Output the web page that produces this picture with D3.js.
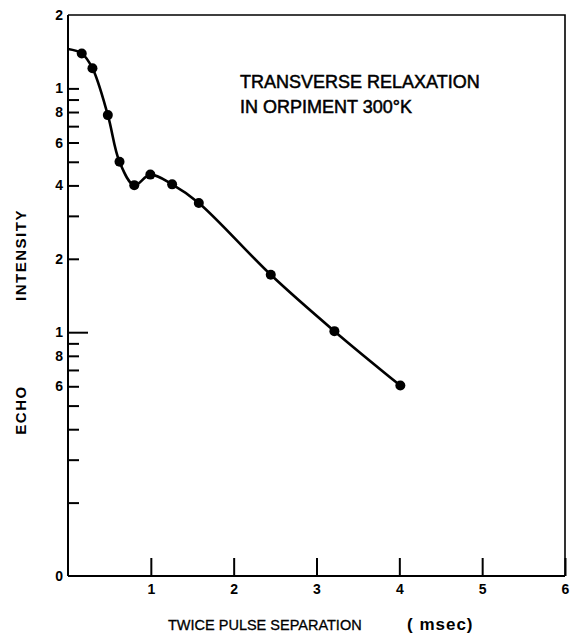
<!DOCTYPE html>
<html>
<head>
<meta charset="utf-8">
<script src="https://cdn.jsdelivr.net/npm/d3@7"></script>
<style>
  html, body { margin: 0; padding: 0; background: #fff; }
  svg { display: block; }
  text { font-family: "Liberation Sans", Arial, sans-serif; fill: #000; }
</style>
</head>
<body>
<svg id="chart" width="570" height="633"></svg>
<script>
// Echo intensity vs. twice the pulse separation (msec), log intensity axis
const pulseSep = [0.166, 0.295, 0.481, 0.622, 0.800, 0.994, 1.257, 1.579, 2.448, 3.216, 4.012];
const echo     = [13.9, 12.1, 7.77, 5.0, 4.01, 4.43, 4.04, 3.39, 1.72, 1.01, 0.604];
// the drawn curve starts on the intensity axis
const curveStart = [0, 14.5];

const xTicks = [1, 2, 3, 4, 5, 6];
const xTickLabels = ["1", "2", "3", "4", "5", "6"];
const yTicks = [10, 9, 8, 7, 6, 5, 4, 3, 2, 1, 0.9, 0.8, 0.7, 0.6, 0.5, 0.4, 0.3, 0.2];
const yLabelValues = [20, 10, 8, 6, 4, 2, 1, 0.8, 0.6, 0.1];
const yLabelTexts  = ["2", "1", "8", "6", "4", "2", "1", "8", "6", "0"];

const svg = d3.select("#chart");
const plot = { left: 68, right: 565, top: 15, bottom: 576 };

const x = d3.scaleLinear().domain([0, 6]).range([plot.left, plot.right]);
const y = d3.scaleLog().domain([0.1, 20]).range([plot.bottom, plot.top]);

// frame: top and right edges
svg.append("path")
  .attr("d", `M${plot.left},${plot.top}H${plot.right}V${plot.bottom}`)
  .attr("fill", "none").attr("stroke", "#000").attr("stroke-width", 1.6);

// x axis, ticks pointing up into the plot
const xAxis = d3.axisBottom(x).tickValues(xTicks)
  .tickFormat((d, i) => xTickLabels[i]).tickSize(-18).tickPadding(8);
const gx = svg.append("g").attr("transform", `translate(0,${plot.bottom})`).call(xAxis);
gx.select(".domain").attr("d", `M${plot.left},0H${plot.right}`).attr("stroke-width", 2);
gx.selectAll(".tick line").attr("stroke-width", 2);
gx.selectAll(".tick text")
  .attr("font-size", 14).attr("font-weight", "bold")
  .attr("font-family", "'Liberation Sans', Arial, sans-serif");

// y axis, ticks pointing right into the plot
const yAxis = d3.axisLeft(y).tickValues(yTicks).tickFormat("").tickSize(-11);
const gy = svg.append("g").attr("transform", `translate(${plot.left},0)`).call(yAxis);
gy.select(".domain").attr("d", `M0,${plot.top}V${plot.bottom}`).attr("stroke-width", 2);
gy.selectAll(".tick line").attr("stroke-width", 2)
  .filter(d => d === 1).attr("x2", 20);

// y tick labels
svg.append("g").selectAll("text")
  .data(yLabelValues)
  .join("text")
  .attr("x", plot.left - 5)
  .attr("y", d => y(d))
  .attr("dy", "0.36em")
  .attr("text-anchor", "end")
  .attr("font-size", 14).attr("font-weight", "bold")
  .text((d, i) => yLabelTexts[i]);

// measured curve
const pts = [curveStart].concat(pulseSep.map((v, i) => [v, echo[i]]));
const line = d3.line().x(d => x(d[0])).y(d => y(d[1]))
  .curve(d3.curveCatmullRom.alpha(0.5));
svg.append("path")
  .attr("d", line(pts))
  .attr("fill", "none").attr("stroke", "#000").attr("stroke-width", 2.6)
  .attr("stroke-linejoin", "round");

svg.append("g").selectAll("circle")
  .data(pulseSep)
  .join("circle")
  .attr("cx", d => x(d))
  .attr("cy", (d, i) => y(echo[i]))
  .attr("r", 5)
  .attr("fill", "#000");

// annotation
const note = svg.append("g").attr("font-size", 18)
  .attr("stroke", "#000").attr("stroke-width", 0.5);
note.append("text").attr("x", 240).attr("y", 88).text("TRANSVERSE RELAXATION");
note.append("text").attr("x", 240).attr("y", 113).text("IN ORPIMENT 300°K");

// axis titles
svg.append("text")
  .attr("x", 168).attr("y", 630)
  .attr("font-size", 14.5).attr("stroke", "#000").attr("stroke-width", 0.3)
  .text("TWICE PULSE SEPARATION");
svg.append("text")
  .attr("x", 407).attr("y", 630)
  .attr("font-size", 17).attr("font-weight", "bold").attr("letter-spacing", 1)
  .text("( msec)");

svg.append("text")
  .attr("transform", "translate(26,255) rotate(-90)")
  .attr("text-anchor", "middle")
  .attr("font-size", 15).attr("font-weight", "bold").attr("letter-spacing", 1.5)
  .text("INTENSITY");
svg.append("text")
  .attr("transform", "translate(26,410) rotate(-90)")
  .attr("text-anchor", "middle")
  .attr("font-size", 15).attr("font-weight", "bold").attr("letter-spacing", 1.5)
  .text("ECHO");
</script>
</body>
</html>
